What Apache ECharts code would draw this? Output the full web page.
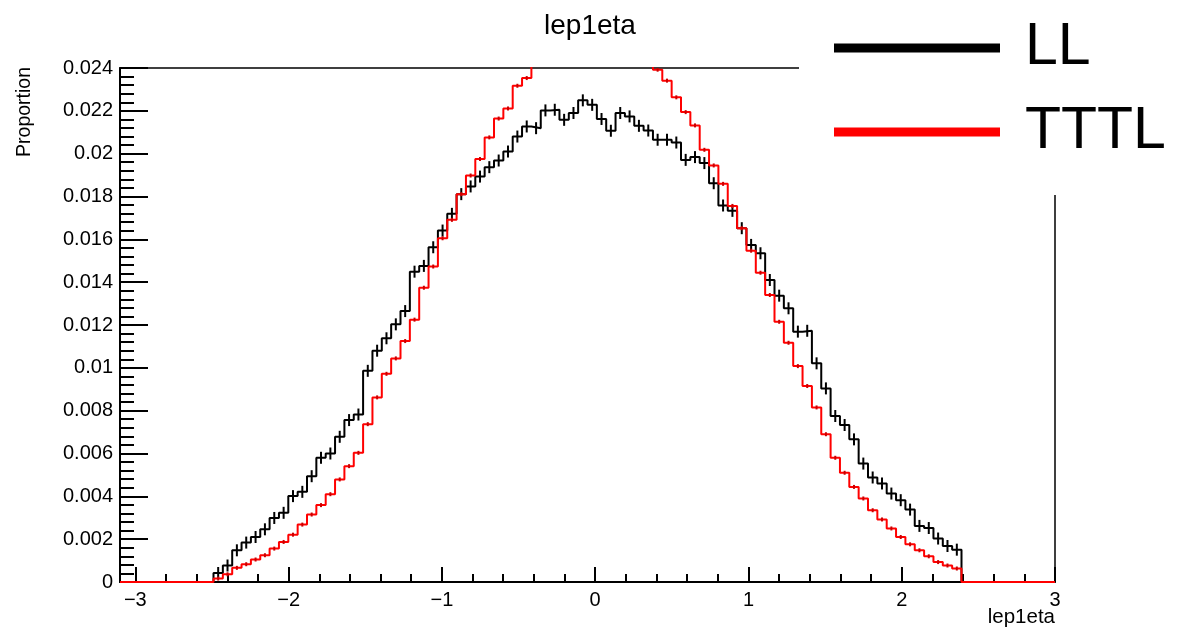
<!DOCTYPE html>
<html>
<head>
<meta charset="utf-8">
<title>lep1eta</title>
<script src="https://cdn.jsdelivr.net/npm/echarts@6/dist/echarts.min.js"></script>
<style>
    html, body { margin: 0; padding: 0; background: #fff; }
    #chartmain { width: 1187px; height: 629px; }
</style>
</head>
<body>
<div id="chartmain"></div>
<script>
// histogram binning: 100 bins from -3.1 to 3.0
var binLow = -3.1;
var binWidth = 0.061;
var nBins = 100;

// LL (black), one value per bin
var llVals = [
    0, 0, 0, 0, 0, 0, 0, 0, 0, 0,
    0.00042, 0.00077, 0.00148, 0.00184, 0.00210, 0.00246, 0.00299, 0.00323, 0.00401, 0.00421,
    0.00494, 0.00580, 0.00600, 0.00678, 0.00756, 0.00782, 0.00986, 0.01080, 0.01138, 0.01203,
    0.01265, 0.01449, 0.01476, 0.01563, 0.01641, 0.01719, 0.01811, 0.01847, 0.01893, 0.01937,
    0.01968, 0.02010, 0.02080, 0.02127, 0.02119, 0.02202, 0.02205, 0.02158, 0.02190, 0.02249,
    0.02228, 0.02162, 0.02107, 0.02190, 0.02174, 0.02130, 0.02108, 0.02065, 0.02065, 0.02052,
    0.01971, 0.01984, 0.01956, 0.01862, 0.01758, 0.01733, 0.01652, 0.01574, 0.01535, 0.01410,
    0.01337, 0.01278, 0.01169, 0.01173, 0.01021, 0.00904, 0.00775, 0.00733, 0.00666, 0.00553,
    0.00488, 0.00460, 0.00413, 0.00382, 0.00338, 0.00262, 0.00252, 0.00203, 0.00168, 0.00151,
    0, 0, 0, 0, 0, 0, 0, 0, 0, 0
];

// TTTL (red), one value per bin
var tttlVals = [
    0, 0, 0, 0, 0, 0, 0, 0, 0, 0,
    0.00016, 0.00036, 0.00066, 0.00083, 0.00105, 0.00125, 0.00156, 0.00187, 0.00221, 0.00268,
    0.00315, 0.00359, 0.00410, 0.00479, 0.00541, 0.00603, 0.00737, 0.00862, 0.00972, 0.01044,
    0.01125, 0.01225, 0.01374, 0.01473, 0.01605, 0.01691, 0.01811, 0.01898, 0.01975, 0.02076,
    0.02164, 0.02211, 0.02317, 0.02353, 0.0245, 0.0252, 0.0258, 0.0263, 0.0267, 0.0270,
    0.0271, 0.0269, 0.0266, 0.0262, 0.0257, 0.0251, 0.0245, 0.02392, 0.02341, 0.02263,
    0.02194, 0.02132, 0.02018, 0.01945, 0.01859, 0.01756, 0.01652, 0.01547, 0.01444, 0.01340,
    0.01215, 0.01117, 0.01008, 0.00915, 0.00815, 0.00690, 0.00580, 0.00510, 0.00444, 0.00390,
    0.00335, 0.00292, 0.00250, 0.00210, 0.00176, 0.00148, 0.00120, 0.00093, 0.00077, 0.00063,
    0, 0, 0, 0, 0, 0, 0, 0, 0, 0
];

var xMajor = [-3, -2, -1, 0, 1, 2, 3];
var seriesNames = ['LL', 'TTTL'];

var FONT = 'Liberation Sans, Arial, sans-serif';

// minor x ticks every 0.2
var xMinor = [];
for (var k = -15; k <= 15; k++) {
    xMinor.push(+(k * 0.2).toFixed(1));
}

function edge(i) {
    return +(binLow + i * binWidth).toFixed(4);
}

// step line points: left edge of each bin + closing right edge
function stepData(vals) {
    var out = [];
    for (var i = 0; i < nBins; i++) {
        out.push([edge(i), vals[i]]);
    }
    out.push([edge(nBins), vals[nBins - 1]]);
    return out;
}

// error bar points at bin centres (only filled bins)
function errData(vals) {
    var out = [];
    for (var i = 0; i < nBins; i++) {
        if (vals[i] > 0) {
            out.push([+(binLow + (i + 0.5) * binWidth).toFixed(4), vals[i]]);
        }
    }
    return out;
}

function errRender(half, color) {
    return function (params, api) {
        var p = api.coord([api.value(0), api.value(1)]);
        return {
            type: 'line',
            shape: {x1: p[0], y1: p[1] - half, x2: p[0], y2: p[1] + half},
            style: {stroke: color, lineWidth: 2}
        };
    };
}

function minusFmt(v) {
    return v < 0 ? '\u2212' + (-v) : '' + v;
}

var option = {
    animation: false,
    backgroundColor: '#fff',
    title: {
        text: 'lep1eta',
        left: 585,
        top: 7,
        textAlign: 'center',
        textStyle: {fontFamily: FONT, fontSize: 28, fontWeight: 'normal', color: '#000'}
    },
    legend: {
        orient: 'vertical',
        left: 829,
        top: 7,
        itemWidth: 166,
        itemHeight: 9,
        itemGap: 12,
        icon: 'rect',
        z: 200,
        textStyle: {fontFamily: FONT, fontSize: 59, color: '#000', lineHeight: 72, padding: [0, 0, 0, 20]},
        data: seriesNames
    },
    grid: {
        left: 120,
        right: 132,
        top: 68,
        bottom: 47,
        show: true,
        borderColor: '#000',
        borderWidth: 1.5,
        containLabel: false
    },
    xAxis: [
        {
            type: 'value',
            min: binLow,
            max: 3.0,
            position: 'bottom',
            axisLine: {onZero: false, lineStyle: {color: '#000', width: 2}},
            axisTick: {inside: true, length: 15, customValues: xMajor, lineStyle: {color: '#000', width: 2}},
            axisLabel: {
                customValues: xMajor,
                margin: 8,
                fontFamily: FONT,
                fontSize: 20,
                color: '#000',
                formatter: minusFmt
            },
            splitLine: {show: false}
        },
        {
            type: 'value',
            min: binLow,
            max: 3.0,
            position: 'bottom',
            axisLine: {show: false, onZero: false},
            axisTick: {inside: true, length: 8, customValues: xMinor, lineStyle: {color: '#000', width: 2}},
            axisLabel: {show: false},
            splitLine: {show: false}
        }
    ],
    yAxis: {
        type: 'value',
        min: 0,
        max: 0.024,
        interval: 0.002,
        axisLine: {show: true, onZero: false, lineStyle: {color: '#000', width: 2}},
        axisTick: {inside: true, length: 28, lineStyle: {color: '#000', width: 2}},
        minorTick: {show: true, splitNumber: 5, length: 14, lineStyle: {color: '#000', width: 2}},
        axisLabel: {margin: 7, fontFamily: FONT, fontSize: 20, color: '#000'},
        splitLine: {show: false}
    },
    graphic: [
        // legend box hides the top-right corner of the frame
        {type: 'rect', left: 799, top: 0, shape: {width: 400, height: 195}, style: {fill: '#fff'}, z: 100},
        {
            type: 'text', x: 25, y: 67, rotation: Math.PI / 2, z: 100,
            style: {text: 'Proportion', font: '19.5px ' + FONT, fill: '#000', textAlign: 'right', textVerticalAlign: 'middle'}
        },
        {
            type: 'text', x: 1055, y: 617, z: 100,
            style: {text: 'lep1eta', font: '20.5px ' + FONT, fill: '#000', textAlign: 'right', textVerticalAlign: 'middle'}
        }
    ],
    series: [
        {
            name: 'LL',
            type: 'line',
            step: 'end',
            showSymbol: false,
            color: '#000',
            lineStyle: {color: '#000', width: 2},
            data: stepData(llVals),
            z: 2
        },
        {
            name: 'LL err',
            type: 'custom',
            clip: true,
            renderItem: errRender(6, '#000'),
            data: errData(llVals),
            z: 3
        },
        {
            name: 'TTTL',
            type: 'line',
            step: 'end',
            showSymbol: false,
            color: '#ff0000',
            lineStyle: {color: '#ff0000', width: 2},
            data: stepData(tttlVals),
            z: 4
        },
        {
            name: 'TTTL err',
            type: 'custom',
            clip: true,
            renderItem: errRender(2, '#cc0000'),
            data: errData(tttlVals),
            z: 5
        }
    ]
};

var myChart = echarts.init(document.getElementById('chartmain'));
myChart.setOption(option);
</script>
</body>
</html>
